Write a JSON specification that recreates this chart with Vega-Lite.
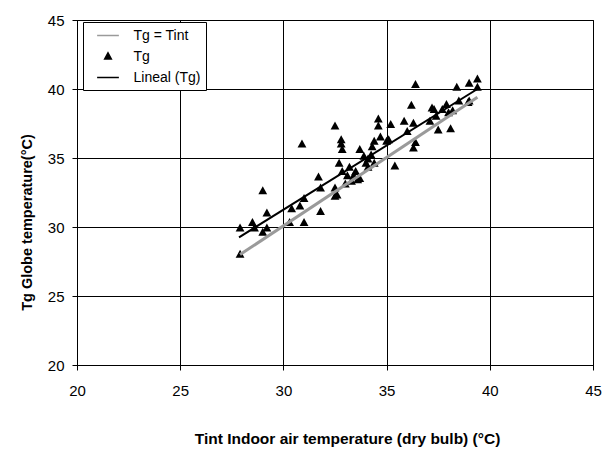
{
  "$schema": "https://vega.github.io/schema/vega-lite/v6.json",
  "width": 516,
  "height": 345,
  "autosize": {"type": "none"},
  "padding": {"left": 77, "top": 20, "right": 16, "bottom": 85},
  "background": "white",
  "config": {
    "font": "Liberation Sans",
    "view": {"stroke": "#000", "strokeWidth": 1},
    "axis": {
      "domainColor": "#000", "tickColor": "#000", "gridColor": "#000", "gridOpacity": 1, "gridWidth": 1,
      "tickSize": 5, "labelFont": "Liberation Sans", "labelFontSize": 15, "labelColor": "#000", "labelFlush": false,
      "titleFont": "Liberation Sans", "titleFontWeight": "bold", "titleColor": "#000"
    }
  },
  "datasets": {
    "points": [
      {"tint": 27.9, "tg": 29.9, "series": "Tg"},
      {"tint": 27.9, "tg": 28.0, "series": "Tg"},
      {"tint": 28.5, "tg": 30.3, "series": "Tg"},
      {"tint": 28.6, "tg": 29.9, "series": "Tg"},
      {"tint": 29.0, "tg": 32.6, "series": "Tg"},
      {"tint": 29.0, "tg": 29.6, "series": "Tg"},
      {"tint": 29.2, "tg": 31.0, "series": "Tg"},
      {"tint": 29.2, "tg": 29.9, "series": "Tg"},
      {"tint": 30.3, "tg": 30.3, "series": "Tg"},
      {"tint": 30.4, "tg": 31.3, "series": "Tg"},
      {"tint": 30.8, "tg": 31.5, "series": "Tg"},
      {"tint": 30.9, "tg": 36.0, "series": "Tg"},
      {"tint": 31.0, "tg": 30.3, "series": "Tg"},
      {"tint": 31.0, "tg": 32.05, "series": "Tg"},
      {"tint": 31.7, "tg": 33.6, "series": "Tg"},
      {"tint": 31.8, "tg": 32.8, "series": "Tg"},
      {"tint": 31.8, "tg": 31.1, "series": "Tg"},
      {"tint": 32.5, "tg": 37.3, "series": "Tg"},
      {"tint": 32.5, "tg": 32.8, "series": "Tg"},
      {"tint": 32.5, "tg": 32.2, "series": "Tg"},
      {"tint": 32.6, "tg": 32.3, "series": "Tg"},
      {"tint": 32.7, "tg": 34.6, "series": "Tg"},
      {"tint": 32.8, "tg": 36.3, "series": "Tg"},
      {"tint": 32.8, "tg": 36.0, "series": "Tg"},
      {"tint": 32.85, "tg": 35.6, "series": "Tg"},
      {"tint": 32.85, "tg": 34.0, "series": "Tg"},
      {"tint": 33.0, "tg": 33.1, "series": "Tg"},
      {"tint": 33.1, "tg": 33.7, "series": "Tg"},
      {"tint": 33.2, "tg": 34.3, "series": "Tg"},
      {"tint": 33.3, "tg": 33.3, "series": "Tg"},
      {"tint": 33.4, "tg": 33.7, "series": "Tg"},
      {"tint": 33.5, "tg": 34.0, "series": "Tg"},
      {"tint": 33.6, "tg": 33.4, "series": "Tg"},
      {"tint": 33.7, "tg": 35.6, "series": "Tg"},
      {"tint": 33.7, "tg": 33.5, "series": "Tg"},
      {"tint": 33.9, "tg": 35.1, "series": "Tg"},
      {"tint": 34.0, "tg": 34.6, "series": "Tg"},
      {"tint": 34.1, "tg": 34.9, "series": "Tg"},
      {"tint": 34.1, "tg": 34.3, "series": "Tg"},
      {"tint": 34.25, "tg": 35.2, "series": "Tg"},
      {"tint": 34.3, "tg": 35.8, "series": "Tg"},
      {"tint": 34.4, "tg": 34.6, "series": "Tg"},
      {"tint": 34.4, "tg": 36.2, "series": "Tg"},
      {"tint": 34.6, "tg": 37.8, "series": "Tg"},
      {"tint": 34.6, "tg": 37.3, "series": "Tg"},
      {"tint": 34.7, "tg": 36.5, "series": "Tg"},
      {"tint": 35.0, "tg": 36.2, "series": "Tg"},
      {"tint": 35.1, "tg": 36.3, "series": "Tg"},
      {"tint": 35.2, "tg": 37.4, "series": "Tg"},
      {"tint": 35.4, "tg": 34.4, "series": "Tg"},
      {"tint": 35.85, "tg": 37.65, "series": "Tg"},
      {"tint": 36.0, "tg": 36.9, "series": "Tg"},
      {"tint": 36.2, "tg": 38.8, "series": "Tg"},
      {"tint": 36.3, "tg": 37.5, "series": "Tg"},
      {"tint": 36.3, "tg": 35.7, "series": "Tg"},
      {"tint": 36.4, "tg": 36.1, "series": "Tg"},
      {"tint": 36.4, "tg": 40.3, "series": "Tg"},
      {"tint": 37.1, "tg": 37.65, "series": "Tg"},
      {"tint": 37.2, "tg": 38.6, "series": "Tg"},
      {"tint": 37.3, "tg": 38.5, "series": "Tg"},
      {"tint": 37.4, "tg": 38.0, "series": "Tg"},
      {"tint": 37.5, "tg": 37.0, "series": "Tg"},
      {"tint": 37.7, "tg": 38.5, "series": "Tg"},
      {"tint": 37.9, "tg": 38.85, "series": "Tg"},
      {"tint": 38.0, "tg": 38.25, "series": "Tg"},
      {"tint": 38.1, "tg": 37.1, "series": "Tg"},
      {"tint": 38.2, "tg": 38.4, "series": "Tg"},
      {"tint": 38.4, "tg": 40.1, "series": "Tg"},
      {"tint": 38.5, "tg": 39.1, "series": "Tg"},
      {"tint": 38.95, "tg": 39.0, "series": "Tg"},
      {"tint": 39.0, "tg": 40.4, "series": "Tg"},
      {"tint": 39.4, "tg": 40.7, "series": "Tg"},
      {"tint": 39.4, "tg": 40.1, "series": "Tg"},
      {"tint": 39.0, "tg": 39.1, "series": "Tg"}
    ],
    "lines": [
      {"tint": 27.9, "tg": 28.0, "series": "Tg = Tint"},
      {"tint": 39.4, "tg": 39.4, "series": "Tg = Tint"},
      {"tint": 27.85, "tg": 29.25, "series": "Lineal (Tg)"},
      {"tint": 39.4, "tg": 40.0, "series": "Lineal (Tg)"}
    ]
  },
  "layer": [
    {
      "data": {"name": "points"},
      "mark": {"type": "point", "filled": true, "opacity": 1, "size": 400},
      "encoding": {
        "x": {"field": "tint", "type": "quantitative",
          "scale": {"domain": [20, 45], "nice": false, "zero": false},
          "axis": {"values": [20, 25, 30, 35, 40, 45], "grid": true, "labelPadding": 13,
            "title": "Tint Indoor air temperature (dry bulb) (°C)", "titleFontSize": 15.5,
            "titleY": 73, "titleX": 270, "titleBaseline": "middle"}},
        "y": {"field": "tg", "type": "quantitative",
          "scale": {"domain": [20, 45], "nice": false, "zero": false},
          "axis": {"values": [20, 25, 30, 35, 40, 45], "grid": true, "labelPadding": 8,
            "title": "Tg Globe temperature(°C)", "titleFontSize": 14.5,
            "titleX": -50, "titleY": 202, "titleAngle": -90, "titleBaseline": "middle", "titleAlign": "center"}},
        "color": {"field": "series", "type": "nominal",
          "scale": {"domain": ["Tg = Tint", "Tg", "Lineal (Tg)"], "range": ["#9a9a9a", "#000000", "#000000"]},
          "legend": {
            "title": null, "orient": "none", "legendX": 6, "legendY": 2,
            "fillColor": "white", "strokeColor": "#000", "padding": 5,
            "symbolSize": 225, "symbolOffset": 11.5, "labelOffset": 17, "rowPadding": 5,
            "labelFont": "Liberation Sans", "labelFontSize": 14, "labelColor": "#000",
            "encode": {"symbols": {"update": {
              "stroke": {"signal": "datum.value === 'Tg' ? 'transparent' : scale('color', datum.value)"},
              "fill": {"signal": "datum.value === 'Tg' ? '#000' : 'transparent'"},
              "strokeWidth": {"signal": "datum.value === 'Tg = Tint' ? 3 : 2"}
            }}}
          }},
        "shape": {"field": "series", "type": "nominal",
          "scale": {"domain": ["Tg = Tint", "Tg", "Lineal (Tg)"], "range": ["M-1.45,0H1.45", "M0,-0.48L0.44,0.32L-0.44,0.32Z", "M-1.45,0H1.45"]},
          "legend": {"title": null, "orient": "none", "legendX": 6, "legendY": 2}}
      }
    },
    {
      "data": {"name": "lines"},
      "mark": {"type": "line"},
      "encoding": {
        "x": {"field": "tint", "type": "quantitative"},
        "y": {"field": "tg", "type": "quantitative"},
        "color": {"field": "series", "type": "nominal"},
        "strokeWidth": {"condition": {"test": "datum.series === 'Tg = Tint'", "value": 3}, "value": 2}
      }
    }
  ]
}
